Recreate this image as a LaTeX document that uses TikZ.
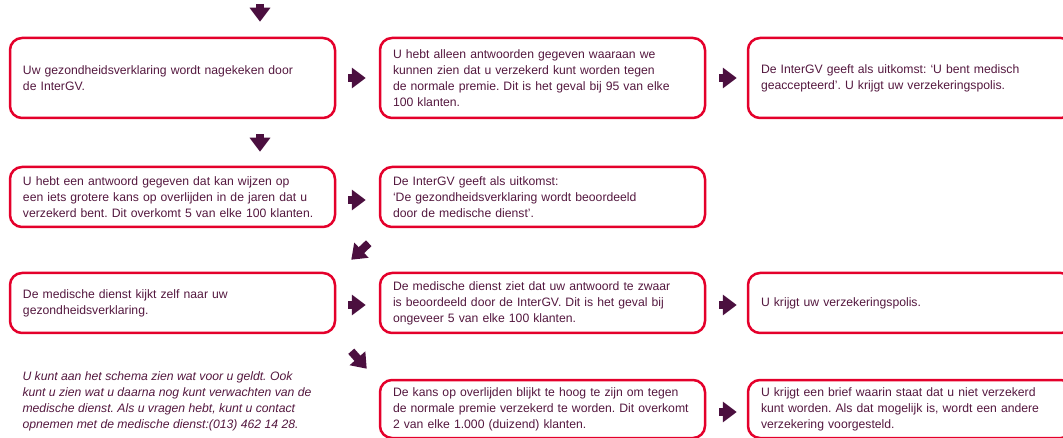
\documentclass[tikz,border=0pt]{standalone}
\usepackage{fontspec}
\setmainfont{Liberation Sans}
\usepackage{xcolor}
\usetikzlibrary{arrows.meta, calc, positioning}

\definecolor{plum}{HTML}{4B0F3F}
\definecolor{plumtext}{HTML}{54183F}
\definecolor{boxred}{HTML}{E4002B}

\tikzset{
    stepbox/.style={draw=boxred, line width=2.5pt, rounded corners=12pt, minimum width=325pt,
        text width=299pt, inner xsep=13pt, inner ysep=0pt, align=left, text=plumtext,
        font=\fontsize{12.2}{16}\selectfont},
    tallbox/.style={stepbox, minimum height=80pt},
    lowbox/.style={stepbox, minimum height=60pt},
    flowarrow/.style={draw=plum, line width=8pt, -{Triangle[length=14pt, width=20pt]}}
}

\begin{document}
\frenchspacing
\begin{tikzpicture}[x=1pt, y=-1pt]
                    \useasboundingbox (0, 0) rectangle (1063, 438);

                    % first row
                    \node[tallbox] (check) at (172.5, 78) {Uw gezondheidsverklaring wordt nagekeken door\\de InterGV.};
                    \node[tallbox] (normal) at (542.5, 78) {U hebt alleen antwoorden gegeven waaraan we\\kunnen zien dat u verzekerd kunt worden tegen\\de normale premie. Dit is het geval bij 95 van elke\\100 klanten.};
                    \node[tallbox] (accepted) at (910.5, 78) {De InterGV geeft als uitkomst: ‘U bent medisch\\geaccepteerd’. U krijgt uw verzekeringspolis.};

                    % second row
                    \node[lowbox] (risk) at (172.5, 197) {U hebt een antwoord gegeven dat kan wijzen op\\een iets grotere kans op overlijden in de jaren dat u\\verzekerd bent. Dit overkomt 5 van elke 100 klanten.};
                    \node[lowbox] (judged) at (542.5, 197) {De InterGV geeft als uitkomst:\\‘De gezondheidsverklaring wordt beoordeeld\\door de medische dienst’.};

                    % third row
                    \node[lowbox] (medical) at (172.5, 303) {De medische dienst kijkt zelf naar uw\\gezondheidsverklaring.};
                    \node[lowbox] (toosevere) at (542.5, 303) {De medische dienst ziet dat uw antwoord te zwaar\\is beoordeeld door de InterGV. Dit is het geval bij\\ongeveer 5 van elke 100 klanten.};
                    \node[lowbox] (policy) at (910.5, 303) {U krijgt uw verzekeringspolis.};

                    % fourth row
                    \node[lowbox, minimum height=58pt] (toohigh) at (542.5, 409) {De kans op overlijden blijkt te hoog te zijn om tegen\\de normale premie verzekerd te worden. Dit overkomt\\2 van elke 1.000 (duizend) klanten.};
                    \node[lowbox, minimum height=58pt] (letter) at (910.5, 409) {U krijgt een brief waarin staat dat u niet verzekerd\\kunt worden. Als dat mogelijk is, wordt een andere\\verzekering voorgesteld.};

                    \node[anchor=west, align=left, text=plumtext, font=\fontsize{12.2}{16}\selectfont\itshape] (note) at (19, 401)
                        {U kunt aan het schema zien wat voor u geldt. Ook\\kunt u zien wat u daarna nog kunt verwachten van de\\medische dienst. Als u vragen hebt, kunt u contact\\opnemen met de medische dienst:(013) 462 14 28.};

                    \coordinate (start) at (260, 4);

                    \draw[flowarrow] (start) -- ([yshift=15pt]start |- check.north);
                    \draw[flowarrow] ([yshift=-15pt]check.south -| start) -- ([yshift=14pt]risk.north -| start);
                    \draw[flowarrow] ([xshift=12pt]check.east) -- ([xshift=-13pt]normal.west);
                    \draw[flowarrow] ([xshift=13pt]normal.east) -- ([xshift=-10pt]accepted.west);
                    \draw[flowarrow] ([xshift=12pt, yshift=-3pt]risk.east) -- ([xshift=-13pt, yshift=-3pt]judged.west);
                    \draw[flowarrow] ([shift={(-10pt,-15pt)}]judged.south west) -- ([shift={(15pt,12pt)}]medical.north east);
                    \draw[flowarrow] ([xshift=12pt, yshift=-2pt]medical.east) -- ([xshift=-13pt, yshift=-2pt]toosevere.west);
                    \draw[flowarrow] ([xshift=13pt, yshift=-2pt]toosevere.east) -- ([xshift=-10pt, yshift=-2pt]policy.west);
                    \draw[flowarrow] ([shift={(15pt,-17pt)}]medical.south east) -- ([shift={(-12pt,10pt)}]toohigh.north west);
                    \draw[flowarrow] ([xshift=13pt, yshift=-3pt]toohigh.east) -- ([xshift=-10pt, yshift=-3pt]letter.west);
                \end{tikzpicture}
\end{document}
